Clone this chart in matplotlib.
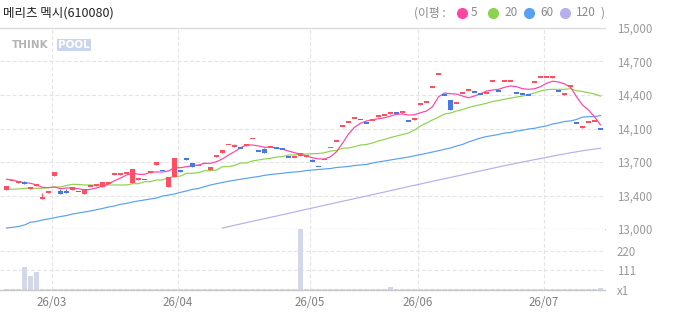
import numpy as np
import matplotlib.pyplot as plt
from matplotlib.lines import Line2D

plt.rcParams['font.family'] = ['Noto Sans CJK KR', 'DejaVu Sans']

title = '메리츠 멕시(610080)'
ma_names = ['5', '20', '60', '120']
ma_colors = ['#ff44a4', '#8cd24e', '#5aa0f2', '#b5b0ea']
up_color = '#ff4f62'
down_color = '#4678e6'
vol_color = '#d3d8e8'

month_labels = ['26/03', '26/04', '26/05', '26/06', '26/07']
month_first = [8, 29, 51, 69, 90]

price_ticks = [13000, 13333, 13667, 14000, 14333, 14667, 15000]
price_labels = ['13,000', '13,400', '13,700', '14,100', '14,400', '14,700', '15,000']
vol_ticks = [0, 111, 220]
vol_labels = ['x1', '111', '220']

# 일봉 (100개)
opens = [13388, 13483, 13458, 13468, 13398, 13428, 13299, 13358, 13530, 13378,
         13381, 13388, 13373, 13348, 13428, 13428, 13418, 13448, 13540, 13540,
         13557, 13458, 13488, 13493, 13557, 13640, 13582, 13418, 13517, 13587,
         13706, 13657, 13632, 13652, 13590, 13716, 13756, 13841, 13816, 13806,
         13826, 13900, 13776, 13796, 13816, 13806, 13796, 13716, 13716, 13726,
         13716, 13677, 13622, 13692, 13811, 13876, 14025, 14065, 14104, 14090,
         14055, 14085, 14114, 14134, 14144, 14154, 14154, 14075, 14085, 14234,
         14264, 14413, 14542, 14333, 14284, 14254, 14353, 14383, 14363, 14343,
         14353, 14473, 14373, 14473, 14473, 14353, 14343, 14333, 14463, 14512,
         14512, 14502, 14373, 14333, 14423, 14055, 14005, 14065, 14075, 13995]
closes = [13428, 13483, 13478, 13451, 13418, 13448, 13318, 13378, 13567, 13348,
          13361, 13418, 13373, 13398, 13428, 13448, 13468, 13468, 13557, 13557,
          13557, 13597, 13507, 13493, 13577, 13667, 13582, 13517, 13706, 13567,
          13687, 13617, 13632, 13652, 13617, 13736, 13786, 13841, 13836, 13806,
          13846, 13900, 13776, 13756, 13816, 13806, 13796, 13716, 13716, 13756,
          13736, 13677, 13622, 13692, 13811, 13876, 14025, 14065, 14104, 14090,
          14055, 14085, 14134, 14134, 14164, 14154, 14174, 14075, 14104, 14254,
          14264, 14413, 14542, 14333, 14184, 14254, 14353, 14383, 14363, 14343,
          14353, 14473, 14373, 14473, 14473, 14353, 14343, 14333, 14463, 14512,
          14512, 14522, 14373, 14353, 14423, 14055, 14025, 14065, 14075, 13995]
highs = [13428, 13483, 13478, 13481, 13418, 13448, 13358, 13378, 13567, 13401,
         13398, 13418, 13373, 13398, 13428, 13448, 13468, 13468, 13557, 13557,
         13557, 13597, 13507, 13493, 13577, 13667, 13582, 13517, 13706, 13587,
         13706, 13657, 13632, 13652, 13617, 13736, 13786, 13841, 13846, 13806,
         13846, 13900, 13776, 13806, 13816, 13806, 13796, 13716, 13716, 13756,
         13736, 13697, 13622, 13692, 13811, 13876, 14025, 14065, 14104, 14090,
         14055, 14085, 14134, 14134, 14164, 14154, 14174, 14075, 14104, 14254,
         14264, 14413, 14542, 14333, 14284, 14254, 14353, 14383, 14363, 14343,
         14353, 14473, 14373, 14473, 14473, 14353, 14343, 14333, 14463, 14512,
         14512, 14522, 14373, 14353, 14423, 14055, 14025, 14065, 14075, 13995]

# 이동평균선
ma5 = [13495, 13488, 13471, 13461, 13455, 13438, 13415, 13411, 13418, 13401,
       13408, 13408, 13401, 13388, 13395, 13408, 13428, 13448, 13481, 13507,
       13537, 13557, 13544, 13544, 13567, 13567, 13567, 13577, 13610, 13610,
       13620, 13630, 13637, 13654, 13654, 13670, 13697, 13736, 13769, 13809,
       13836, 13836, 13826, 13813, 13813, 13806, 13793, 13776, 13759, 13746,
       13726, 13709, 13697, 13697, 13719, 13769, 13853, 13945, 14012, 14052,
       14075, 14088, 14097, 14107, 14124, 14141, 14144, 14134, 14137, 14157,
       14174, 14217, 14316, 14353, 14346, 14343, 14323, 14306, 14323, 14346,
       14373, 14383, 14390, 14410, 14423, 14416, 14396, 14390, 14396, 14416,
       14450, 14470, 14463, 14443, 14410, 14316, 14234, 14184, 14117, 14035]
ma20 = [13395, 13395, 13398, 13405, 13405, 13405, 13405, 13413, 13418, 13418,
        13433, 13445, 13443, 13438, 13438, 13435, 13428, 13438, 13438, 13438,
        13438, 13451, 13451, 13471, 13471, 13488, 13488, 13512, 13520, 13527,
        13554, 13554, 13562, 13580, 13580, 13587, 13620, 13620, 13632, 13657,
        13657, 13677, 13687, 13697, 13703, 13716, 13721, 13736, 13736, 13746,
        13746, 13749, 13751, 13759, 13776, 13781, 13803, 13806, 13819, 13836,
        13841, 13856, 13876, 13891, 13910, 13925, 13940, 13955, 13985, 14025,
        14055, 14085, 14114, 14144, 14154, 14174, 14189, 14209, 14224, 14237,
        14251, 14269, 14279, 14291, 14303, 14313, 14323, 14338, 14353, 14373,
        14386, 14390, 14390, 14390, 14396, 14376, 14368, 14356, 14343, 14323]
ma60 = [13010, 13017, 13025, 13040, 13067, 13075, 13090, 13100, 13112, 13124,
        13134, 13149, 13159, 13169, 13179, 13192, 13204, 13219, 13229, 13246,
        13254, 13269, 13279, 13289, 13299, 13308, 13328, 13338, 13348, 13365,
        13378, 13395, 13403, 13421, 13438, 13451, 13463, 13475, 13485, 13495,
        13504, 13514, 13522, 13534, 13542, 13549, 13554, 13562, 13567, 13572,
        13582, 13587, 13592, 13597, 13602, 13612, 13617, 13622, 13632, 13637,
        13642, 13657, 13667, 13677, 13687, 13697, 13706, 13716, 13729, 13741,
        13753, 13766, 13779, 13793, 13806, 13826, 13841, 13866, 13886, 13905,
        13920, 13930, 13940, 13955, 13960, 13975, 13982, 13995, 14002, 14015,
        14025, 14045, 14055, 14070, 14075, 14090, 14114, 14117, 14119, 14129]
ma120_start = 36
ma120 = [13010, 13023, 13037, 13050, 13064, 13077, 13090, 13103, 13116, 13129,
         13143, 13156, 13169, 13183, 13196, 13209, 13223, 13236, 13249, 13263,
         13276, 13289, 13302, 13315, 13328, 13342, 13355, 13368, 13382, 13395,
         13408, 13422, 13435, 13448, 13462, 13475, 13488, 13500, 13513, 13526,
         13539, 13552, 13565, 13578, 13591, 13604, 13617, 13630, 13642, 13654,
         13666, 13678, 13690, 13701, 13713, 13725, 13736, 13747, 13758, 13768,
         13778, 13787, 13796, 13803]

# 거래량
volumes = [6, 6, 6, 128, 78, 100, 6, 6, 6, 6,
           6, 6, 6, 6, 6, 6, 6, 6, 6, 6,
           6, 6, 6, 6, 6, 6, 6, 6, 6, 6,
           6, 6, 6, 6, 6, 6, 6, 6, 6, 6,
           6, 6, 6, 6, 6, 6, 6, 6, 6, 400,
           6, 6, 6, 6, 6, 6, 6, 6, 6, 6,
           6, 6, 6, 6, 17, 6, 6, 6, 6, 6,
           6, 6, 6, 6, 6, 6, 6, 6, 6, 6,
           6, 6, 6, 6, 6, 6, 6, 6, 6, 6,
           6, 6, 6, 6, 6, 6, 6, 6, 6, 11]

W, H = 673, 315
fig = plt.figure(figsize=(W / 100, H / 100), dpi=100)
fig.patch.set_facecolor('white')


def box(x0, y0, x1, y1):
    return [x0 / W, 1 - y1 / H, (x1 - x0) / W, (y1 - y0) / H]


ax = fig.add_axes(box(0, 28, 605, 229))
axv = fig.add_axes(box(0, 229, 605, 290))

idx = np.arange(len(closes))
o = np.array(opens)
c = np.array(closes)
hi = np.array(highs)
lo = np.minimum(o, c)
prev = np.r_[o[0], c[:-1]]
up = (c > o) | ((c == o) & (c >= prev))
cols = np.where(up, up_color, down_color)

grid_kw = dict(color='#e4e4e4', lw=0.8, ls=(0, (3.5, 2)))
month_pos = np.array(month_first) - 0.42

# 가격 차트
ax.plot(idx, ma60, color=ma_colors[2], lw=0.85, zorder=2)
ax.plot(idx[ma120_start:], ma120, color=ma_colors[3], lw=0.85, zorder=2)
ax.plot(idx, ma20, color=ma_colors[1], lw=0.85, zorder=2)
ax.plot(idx, ma5, color=ma_colors[0], lw=0.85, zorder=2)

body_h = np.abs(c - o)
body_lo = np.where(body_h < 15, (o + c) / 2 - 7, lo)
body_h = np.maximum(body_h, 14)
ax.vlines(idx, lo, hi, colors=cols, lw=0.75, zorder=3)
ax.bar(idx, body_h, bottom=body_lo, width=0.8, color=cols, lw=0, zorder=3)

ax.set_xlim(-1.08, 99.75)
ax.set_ylim(13000, 15000)
ax.set_yticks(price_ticks)
ax.set_yticklabels(price_labels)
ax.yaxis.tick_right()
ax.tick_params(axis='y', length=0, pad=8.5, labelsize=8.3, labelcolor='#9a9a9a')
ax.set_xticks(month_pos)
ax.tick_params(axis='x', length=0, labelbottom=False)
ax.grid(True, **grid_kw)
ax.set_axisbelow(True)
for s in ['left', 'right', 'bottom']:
    ax.spines[s].set_visible(False)
ax.spines['top'].set_color('#dcdcdc')
ax.spines['top'].set_linewidth(1.0)
ax.axhline(13000, color='#8c8c8c', lw=0.8, ls=(0, (2, 1.2)), clip_on=False, zorder=5)

# 거래량 차트
axv.bar(idx, volumes, width=0.8, color=vol_color, lw=0, zorder=2)
axv.set_xlim(-1.08, 99.75)
axv.set_ylim(0, 344)
axv.set_yticks(vol_ticks)
axv.set_yticklabels(vol_labels)
axv.yaxis.tick_right()
axv.tick_params(axis='y', length=0, pad=8.5, labelsize=8.3, labelcolor='#9a9a9a')
axv.set_xticks(month_pos)
axv.set_xticklabels(month_labels)
axv.tick_params(axis='x', length=0, pad=4, labelsize=8.3, labelcolor='#808080')
axv.grid(True, **grid_kw)
axv.set_axisbelow(True)
for s in ['left', 'right', 'top']:
    axv.spines[s].set_visible(False)
axv.spines['bottom'].set_color('#c8c8c8')
axv.spines['bottom'].set_linewidth(1.0)

# 제목과 범례
fig.text(3 / W, 1 - 13 / H, title, fontsize=9, color='#222222', va='center', ha='left')

fig.text(414 / W, 1 - 13 / H, '(이평 :', fontsize=8.5, color='#8a8a8a', va='center', ha='left')
dot_x = [462, 493, 529, 565]
txt_x = [471, 504, 540, 576]
for name, col, dx, tx in zip(ma_names, ma_colors, dot_x, txt_x):
    fig.add_artist(Line2D([dx / W], [1 - 13 / H], marker='o', ms=7, color=col,
                          mec=col, transform=fig.transFigure))
    fig.text(tx / W, 1 - 13 / H, name, fontsize=8.5, color='#8a8a8a', va='center', ha='left')
fig.text(601 / W, 1 - 13 / H, ')', fontsize=8.5, color='#8a8a8a', va='center', ha='left')

# 워터마크
fig.text(12 / W, 1 - 45 / H, 'THINK', fontsize=7.5, fontweight='bold', color='#b4b4b4',
         va='center', ha='left', family='DejaVu Sans')
fig.text(58 / W, 1 - 45 / H, 'POOL', fontsize=7.5, fontweight='bold', color='white',
         va='center', ha='left', family='DejaVu Sans',
         bbox=dict(boxstyle='square,pad=0.1', fc='#c9d5ec', ec='none'))

plt.savefig('out.png', dpi=100)
